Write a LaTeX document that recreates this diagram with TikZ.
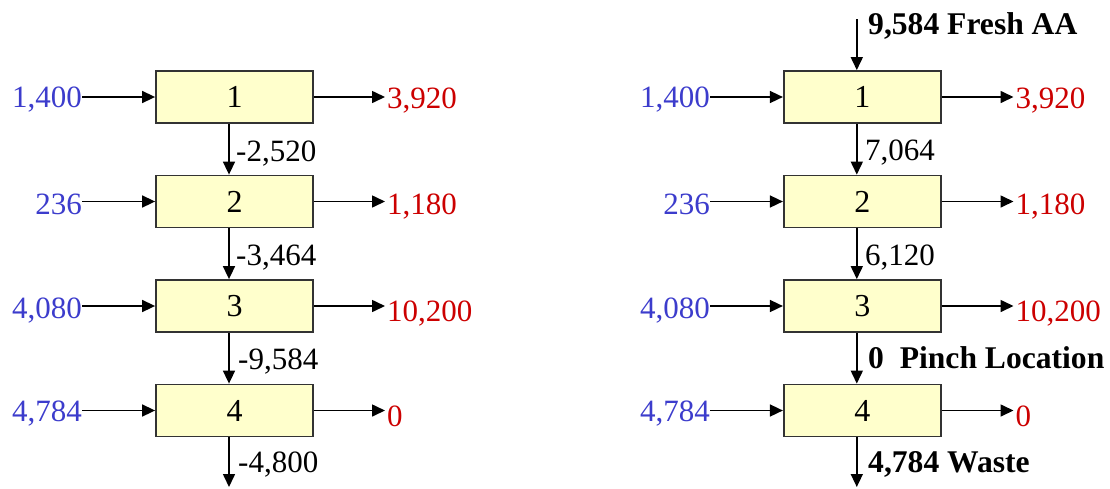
\documentclass[tikz,border=0pt]{standalone}
\usepackage{fontspec}
\setmainfont{Liberation Serif}
\usetikzlibrary{arrows.meta}
\definecolor{inblue}{HTML}{3C3CCC}
\definecolor{outred}{HTML}{CC0000}
\definecolor{boxfill}{HTML}{FFFFCC}
\begin{document}
\begin{tikzpicture}[x=1pt,y=-1pt,
  font=\fontsize{31}{36}\selectfont,
  unit/.style={draw=black!80, fill=boxfill, line width=1.8pt, minimum width=157pt, minimum height=52pt, inner sep=0pt, font=\fontsize{32}{36}\selectfont},
  flow/.style={line width=1.6pt, -{Triangle[length=13pt,width=12pt]}},
  intext/.style={text=inblue, inner sep=0pt, anchor=base east},
  outtext/.style={text=outred, inner sep=0pt, anchor=base west},
  lbl/.style={inner sep=0pt, anchor=base west},
  blbl/.style={lbl, font=\fontsize{31.6}{36}\selectfont\bfseries}]
\useasboundingbox (0,0) rectangle (1110,488);

% ---------- left column ----------
\node[unit] (L1) at (234.5,97) {1};
\node[unit] (L2) at (234.5,201.5) {2};
\node[unit] (L3) at (234.5,306) {3};
\node[unit] (L4) at (234.5,410.5) {4};

\node[intext] (Li1) at (82,107.5) {1,400};
\node[intext] (Li2) at (82,214.5) {236};
\node[intext] (Li3) at (82,318) {4,080};
\node[intext] (Li4) at (82,421.5) {4,784};

\node[outtext] (Lo1) at (387,108.5) {3,920};
\node[outtext] (Lo2) at (387,214.5) {1,180};
\node[outtext] (Lo3) at (387,321.5) {10,200};
\node[outtext] (Lo4) at (387,426) {0};

\foreach \i in {1,2,3,4}{
  \draw[flow] (Li\i.east |- L\i.west) -- (L\i.west);
  \draw[flow, shorten >=2pt] (L\i.east) -- (L\i.east -| Lo\i.west);
}
\draw[flow] ([xshift=-5.5pt]L1.south) -- ([xshift=-5.5pt]L2.north);
\draw[flow] ([xshift=-5.5pt]L2.south) -- ([xshift=-5.5pt]L3.north);
\draw[flow] ([xshift=-5.5pt]L3.south) -- ([xshift=-5.5pt]L4.north);
\coordinate (Lend) at (229,487);
\draw[flow] ([xshift=-5.5pt]L4.south) -- (Lend);

\node[lbl] (La1) at (236,161) {-2,520};
\node[lbl] (La2) at (236,265) {-3,464};
\node[lbl] (La3) at (238,369) {-9,584};
\node[lbl] (La4) at (238,472) {-4,800};

% ---------- right column ----------
\node[unit] (R1) at (862.3,97) {1};
\node[unit] (R2) at (862.3,201.5) {2};
\node[unit] (R3) at (862.3,306) {3};
\node[unit] (R4) at (862.3,410.5) {4};

\node[intext] (Ri1) at (710,107.5) {1,400};
\node[intext] (Ri2) at (710,214.5) {236};
\node[intext] (Ri3) at (710,318) {4,080};
\node[intext] (Ri4) at (710,421.5) {4,784};

\node[outtext] (Ro1) at (1015.5,108.5) {3,920};
\node[outtext] (Ro2) at (1015.5,214.5) {1,180};
\node[outtext] (Ro3) at (1015.5,321.5) {10,200};
\node[outtext] (Ro4) at (1015.5,426) {0};

\foreach \i in {1,2,3,4}{
  \draw[flow] (Ri\i.east |- R\i.west) -- (R\i.west);
  \draw[flow, shorten >=2pt] (R\i.east) -- (R\i.east -| Ro\i.west);
}
\coordinate (Rstart) at (856.8,19);
\draw[flow] (Rstart) -- ([xshift=-5.5pt]R1.north);
\draw[flow] ([xshift=-5.5pt]R1.south) -- ([xshift=-5.5pt]R2.north);
\draw[flow] ([xshift=-5.5pt]R2.south) -- ([xshift=-5.5pt]R3.north);
\draw[flow] ([xshift=-5.5pt]R3.south) -- ([xshift=-5.5pt]R4.north);
\coordinate (Rend) at (856.8,487);
\draw[flow] ([xshift=-5.5pt]R4.south) -- (Rend);

\node[blbl] (Ra0) at (868,34) {9,584 Fresh AA};
\node[lbl] (Ra1) at (865,160) {7,064};
\node[lbl] (Ra2) at (865,265) {6,120};
\node[blbl] (Ra3) at (868,368) {0~~Pinch Location};
\node[blbl] (Ra4) at (868,472) {4,784 Waste};
\end{tikzpicture}
\end{document}
